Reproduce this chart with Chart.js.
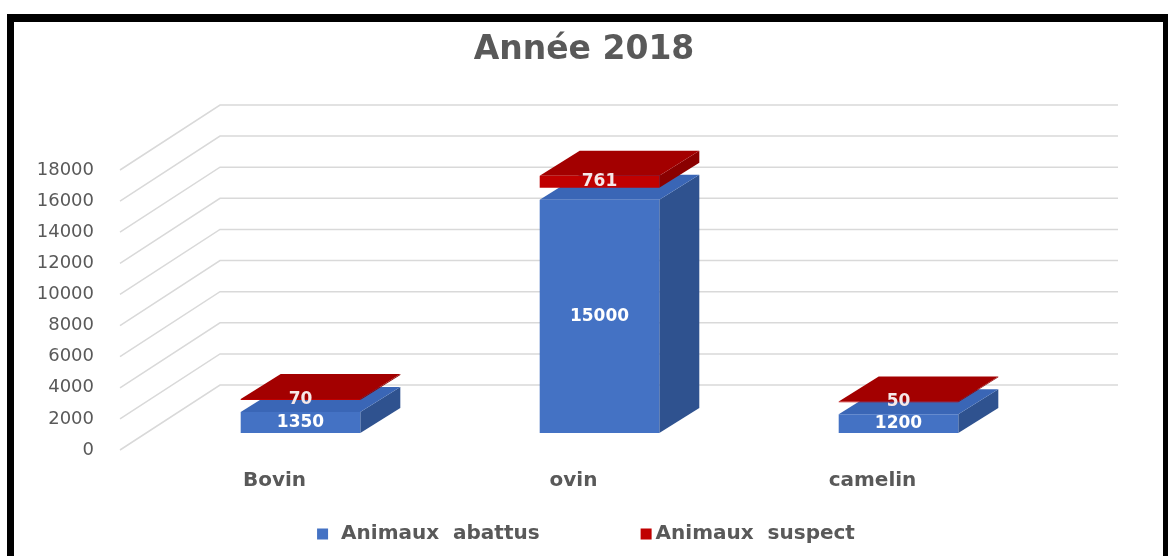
<!DOCTYPE html>
<html>
<head>
<meta charset="utf-8">
<script src="https://cdn.jsdelivr.net/npm/chart.js@4.4.1/dist/chart.umd.min.js"></script>
<style>
  html, body { margin: 0; padding: 0; background: #fff; overflow: hidden; }
  #frame { position: absolute; left: 7px; top: 14px; width: 1161px; height: 560px; box-sizing: border-box;
           border-top: 8px solid #000; border-left: 7px solid #000; border-right: 5px solid #000; }
  #wrap { position: absolute; left: 0; top: 0; width: 1168px; height: 556px; }
</style>
</head>
<body>
<div id="frame"></div>
<div id="wrap"><canvas id="c" width="1168" height="556"></canvas></div>
<script>
// Slaughterhouse figures for 2018
const categories = ['Bovin', 'ovin', 'camelin'];
const abattus = [1350, 15000, 1200];
const suspects = [70, 761, 50];
const seriesNames = ['Animaux  abattus', 'Animaux  suspect'];
const yTickValues = [0, 2000, 4000, 6000, 8000, 10000, 12000, 14000, 16000, 18000];

const TEXT = '#595959';
const GRID = '#d9d9d9';
// 3D extrusion of each column (towards the back, up and right)
const DX = 40, DY = -25;
// the upper stacked series sits slightly raised above the column below it
const LIFT = 12;

Chart.defaults.font.family = '"DejaVu Sans", Verdana, sans-serif';

const columns3d = {
  id: 'columns3d',
  afterDatasetsUpdate(chart) {
    chart.getDatasetMeta(1).data.forEach(el => { el.y -= LIFT; el.base -= LIFT; });
  },
  beforeDatasetsDraw(chart) {
    const { ctx, chartArea: a, scales: { y } } = chart;
    ctx.save();
    // floor diagonals and back wall lines
    ctx.strokeStyle = GRID;
    ctx.lineWidth = 1.5;
    yTickValues.forEach(v => {
      const py = y.getPixelForValue(v);
      ctx.beginPath();
      ctx.moveTo(a.left - 31, py + 17);
      ctx.lineTo(a.left + 69, py - 48);
      ctx.lineTo(a.right + 70, py - 48);
      ctx.stroke();
    });
    // side and top faces; the front faces are the bars themselves
    chart.data.datasets.forEach((ds, di) => {
      chart.getDatasetMeta(di).data.forEach(el => {
        const l = el.x - el.width / 2, r = el.x + el.width / 2, t = el.y, b = el.base;
        ctx.fillStyle = ds.sideColor;
        ctx.beginPath();
        ctx.moveTo(r, t); ctx.lineTo(r + DX, t + DY); ctx.lineTo(r + DX, b + DY); ctx.lineTo(r, b);
        ctx.closePath(); ctx.fill();
        ctx.fillStyle = ds.topColor;
        ctx.beginPath();
        ctx.moveTo(l, t); ctx.lineTo(l + DX, t + DY); ctx.lineTo(r + DX, t + DY); ctx.lineTo(r, t);
        ctx.closePath(); ctx.fill();
      });
    });
    ctx.restore();
  },
  afterDatasetsDraw(chart) {
    const ctx = chart.ctx;
    ctx.save();
    ctx.font = 'bold 17px "DejaVu Sans"';
    ctx.textAlign = 'center';
    ctx.textBaseline = 'middle';
    chart.data.datasets.forEach((ds, di) => {
      chart.getDatasetMeta(di).data.forEach((el, i) => {
        ctx.fillStyle = ds.labelColor;
        ctx.fillText(String(ds.data[i]), el.x, (el.y + el.base) / 2);
      });
    });
    ctx.restore();
  }
};

const legendRow = {
  id: 'legendRow',
  afterDraw(chart) {
    const ctx = chart.ctx;
    ctx.save();
    ctx.font = 'bold 20px "DejaVu Sans"';
    ctx.textBaseline = 'middle';
    const BOX = 11, GAPS = [13, 4], SPACE = 101, yc = 534;
    const items = chart.data.datasets.map((d, i) => ({ text: d.label, color: d.backgroundColor, gap: GAPS[i],
                                                       w: ctx.measureText(d.label).width }));
    const total = items.reduce((s, it) => s + BOX + it.gap + it.w, 0) + SPACE * (items.length - 1);
    let x = chart.width / 2 + 2 - total / 2;
    items.forEach(it => {
      ctx.fillStyle = it.color;
      ctx.fillRect(x, yc - BOX / 2, BOX, BOX);
      x += BOX + it.gap;
      ctx.fillStyle = TEXT;
      ctx.fillText(it.text, x, yc);
      x += it.w + SPACE;
    });
    ctx.restore();
  }
};

new Chart(document.getElementById('c'), {
  type: 'bar',
  data: {
    labels: categories,
    datasets: [
      { label: seriesNames[0], data: abattus, backgroundColor: '#4472C4', sideColor: '#2F528F', topColor: '#3A66B6',
        labelColor: '#ffffff', borderWidth: 0, barPercentage: 0.4, categoryPercentage: 1.0 },
      { label: seriesNames[1], data: suspects, backgroundColor: '#C00000', sideColor: '#8A0000', topColor: '#A30000',
        labelColor: '#f6e8e8', borderWidth: 0, barPercentage: 0.4, categoryPercentage: 1.0 }
    ]
  },
  options: {
    responsive: false,
    animation: false,
    devicePixelRatio: 1,
    layout: { padding: { left: 0, right: 0, top: 22, bottom: 61 } },
    plugins: {
      legend: { display: false },
      tooltip: { enabled: false },
      title: { display: true, text: 'Année 2018', color: TEXT,
               font: { size: 33, weight: 'bold' }, padding: { top: 9, bottom: 82.4 } }
    },
    scales: {
      x: {
        stacked: true,
        grid: { display: false, drawTicks: false }, border: { display: false },
        ticks: { color: TEXT, font: { size: 20, weight: 'bold' }, padding: 36, labelOffset: -26 },
        afterFit(s) { s.height = 62; }
      },
      y: {
        stacked: true, min: 0, max: 18000,
        grid: { display: false, drawTicks: false }, border: { display: false },
        afterBuildTicks(s) { s.ticks = yTickValues.map(v => ({ value: v })); },
        ticks: { color: TEXT, font: { size: 18 }, padding: 57, labelOffset: 17, callback: v => String(v) },
        afterFit(s) { s.width = 151; }
      },
      // empty right-hand gutter that leaves room for the back wall
      gutter: {
        type: 'linear', position: 'right', display: true,
        grid: { display: false, drawTicks: false }, border: { display: false },
        ticks: { display: false },
        afterFit(s) { s.width = 120; }
      }
    }
  },
  plugins: [columns3d, legendRow]
});
</script>
</body>
</html>
